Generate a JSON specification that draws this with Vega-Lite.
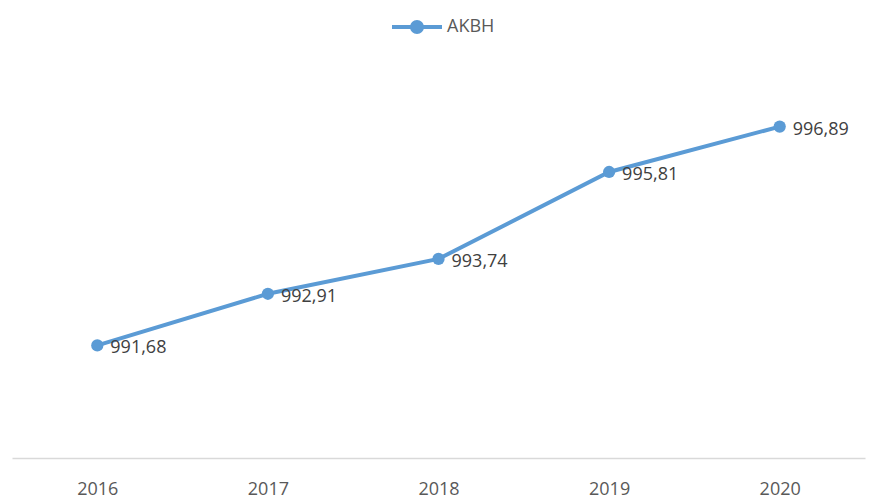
{
  "$schema": "https://vega.github.io/schema/vega-lite/v6.json",
  "width": 853,
  "height": 378,
  "autosize": {"type": "none"},
  "padding": {"left": 12, "top": 80, "right": 4, "bottom": 42},
  "background": "white",
  "config": {
    "view": {"stroke": null},
    "locale": {"number": {"decimal": ",", "thousands": " ", "grouping": [3], "currency": ["", ""]}},
    "font": "Open Sans"
  },
  "data": {
    "values": [
      {"year": "2016", "value": 991.68, "series": "AKBH"},
      {"year": "2017", "value": 992.91, "series": "AKBH"},
      {"year": "2018", "value": 993.74, "series": "AKBH"},
      {"year": "2019", "value": 995.81, "series": "AKBH"},
      {"year": "2020", "value": 996.89, "series": "AKBH"}
    ]
  },
  "encoding": {
    "x": {
      "field": "year", "type": "ordinal",
      "scale": {"type": "point", "padding": 0.5},
      "axis": {
        "title": null, "ticks": false, "grid": false, "labelAngle": 0,
        "domainColor": "#d9d9d9", "domainWidth": 1.5,
        "labelColor": "#595959", "labelFontSize": 18, "labelPadding": 22,
        "labelFont": "Open Sans"
      }
    },
    "y": {
      "field": "value", "type": "quantitative",
      "scale": {"domain": [989, 998], "zero": false, "nice": false},
      "axis": null
    }
  },
  "layer": [
    {
      "mark": {"type": "line", "strokeWidth": 4, "color": "#5b9bd5"},
      "encoding": {
        "color": {
          "field": "series", "type": "nominal",
          "scale": {"range": ["#5b9bd5"]},
          "legend": {
            "title": null, "orient": "none", "legendX": 353, "legendY": -105,
            "symbolType": "M-0.5,0H0.5M-0.1,0A0.1,0.1 0 1,1 0.1,0A0.1,0.1 0 1,1 -0.1,0Z",
            "symbolSize": 10000, "symbolStrokeWidth": 4,
            "symbolFillColor": "#5b9bd5", "symbolStrokeColor": "#5b9bd5",
            "labelFontSize": 18, "labelColor": "#595959", "labelOffset": -22,
            "labelFont": "Open Sans"
          }
        }
      }
    },
    {
      "mark": {"type": "point", "filled": true, "size": 150, "color": "#5b9bd5", "opacity": 1}
    },
    {
      "mark": {"type": "text", "align": "left", "baseline": "middle", "dx": 13, "dy": 3, "fontSize": 18, "color": "#404040", "font": "Open Sans"},
      "encoding": {
        "text": {"field": "value", "type": "quantitative", "format": ".2f"}
      }
    }
  ]
}
